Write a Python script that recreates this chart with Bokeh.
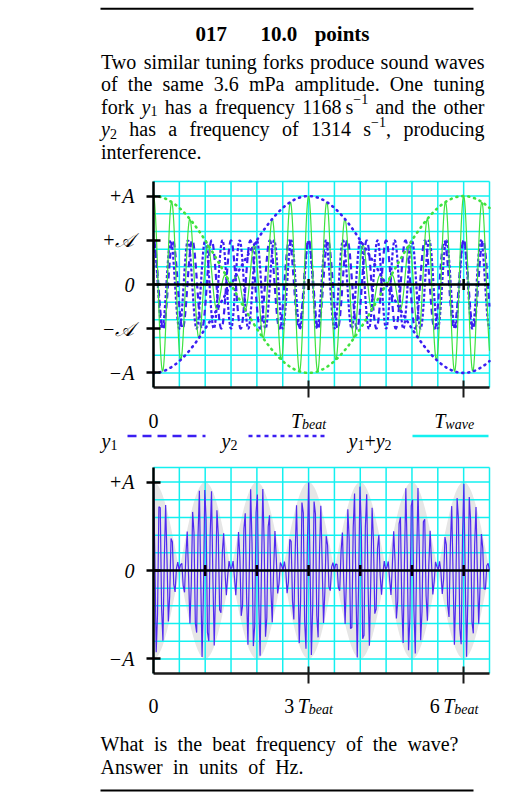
import numpy as np
from bokeh.plotting import figure
from bokeh.layouts import column
from bokeh.models import Range1d, FixedTicker, ColumnDataSource
from bokeh.core.properties import value
from bokeh.embed import file_html
from bokeh.resources import INLINE

# ---------------- data ----------------
question_no = "017"
points_text = "10.0 points"
amplitude_mPa = 3.6
freq_y1 = 1168          # s^-1
freq_y2 = 1314          # s^-1
top_window_beats = 13 / 6     # horizontal extent of upper chart (units of T_beat)
bottom_window_beats = 6.5     # horizontal extent of lower chart (units of T_beat)
top_samples = 800
bottom_samples = 250

top_y_ticks = [1.0, 0.5, 0.0, -0.5, -1.0]
top_y_labels = ["+A", "+\U0001D49C", "0", "\u2212\U0001D49C", "\u2212A"]
top_x_ticks = [0, 1, 2]
top_x_labels = [("0", ""), ("T", "beat"), ("T", "wave")]
top_axis_ticks = [1, 2]
top_zero_ticks = [1, 2]

bottom_y_ticks = [1.0, 0.0, -1.0]
bottom_y_labels = ["+A", "0", "\u2212A"]
bottom_x_ticks = [0, 3, 6]
bottom_x_labels = [("0", ""), ("3 T", "beat"), ("6 T", "beat")]
bottom_axis_ticks = [3, 6]
bottom_zero_ticks = [1, 2, 3, 4, 5, 6]

top_grid_x = [k / 6 for k in range(14)]
bottom_grid_x = [k / 2 for k in range(14)]
grid_y = [round(k * 0.2, 1) for k in range(-5, 6)]

legend_names = [("y", "1"), ("y", "2"), ("y", "1+y2")]

# ---------------- style / page geometry ----------------
SERIF = "Liberation Serif"
BLUE = "#3b1ef2"
VIOLET = "#5028f0"
GREEN = "#3fe23f"
CYAN = "#14f0f0"
GRAY = "#e6e6e6"
Y_LIM = 1.165          # half height of each chart frame, in units of A
A_PX = 103 / Y_LIM     # pixels per A
PAGE_W = 522
FRAME_X0, FRAME_X1 = 153, 489
FS = 20.0
SUB = 14.0

# Times-compatible advance widths (1/1000 em) for laying out text runs
TIMES = {' ': 250, '!': 333, ',': 250, '-': 333, '.': 250, '?': 444, '+': 564, '\u2212': 564,
         '\u2009': 167,
         'A': 722, 'H': 722, 'O': 722, 'P': 556, 'T': 611, 'W': 944,
         'a': 444, 'b': 500, 'c': 444, 'd': 500, 'e': 444, 'f': 333, 'g': 500, 'h': 500,
         'i': 278, 'j': 278, 'k': 500, 'l': 278, 'm': 778, 'n': 500, 'o': 500, 'p': 500,
         'q': 500, 'r': 333, 's': 389, 't': 278, 'u': 500, 'v': 500, 'w': 722, 'x': 500,
         'y': 500, 'z': 444}
for _d in "0123456789":
    TIMES[_d] = 500
TIMES_I = dict(TIMES)
TIMES_I.update({'y': 444, 'T': 556, 'A': 611, 'a': 500, 'w': 667, 'v': 444})
TIMES_B = dict(TIMES)
TIMES_B.update({'p': 556, 'n': 556, 't': 333})


def seg_w(text, style, px):
    tab = TIMES_I if style == "italic" else (TIMES_B if style == "bold" else TIMES)
    return sum(tab.get(c, 500) for c in text) * px / 1000.0


def run_width(segs):
    return sum(seg_w(t, s, z) for t, s, z, _ in segs)


def layout_run(segs, x0, base):
    out = []
    x = x0
    for text, style, size, dy in segs:
        out.append((x, base + dy, text, style, size))
        x += seg_w(text, style, size)
    return out


def justify(tokens, x0, x1, base):
    widths = [run_width(t) for t in tokens]
    gap = (x1 - x0 - sum(widths)) / (len(tokens) - 1)
    out = []
    x = x0
    for tok, w in zip(tokens, widths):
        out += layout_run(tok, x, base)
        x += w + gap
    return out


def text_fig(h):
    p = figure(width=PAGE_W, height=h, x_range=Range1d(0, PAGE_W), y_range=Range1d(h, 0),
               output_backend="svg", toolbar_location=None, min_border=0,
               min_border_left=0, min_border_right=0, min_border_top=0, min_border_bottom=0,
               x_axis_location=None, y_axis_location=None)
    p.xgrid.visible = False
    p.ygrid.visible = False
    p.outline_line_color = None
    return p


def draw_runs(p, items, fx=lambda v: v, fy=lambda v: v):
    src = ColumnDataSource(dict(
        x=[fx(i[0]) for i in items], y=[fy(i[1]) for i in items], text=[i[2] for i in items],
        style=[i[3] for i in items], size=["%.1fpx" % i[4] for i in items]))
    p.text(x="x", y="y", text="text", source=src, text_font=value(SERIF),
           text_font_style="style", text_font_size="size", text_baseline="alphabetic",
           text_align="left", text_color="black")


def W(word, style="normal", size=FS):
    return [(word, style, size, 0)]


# ---------------- header (page y 0..175) ----------------
hdr = text_fig(175)
hdr.segment(x0=[100], y0=[8.3], x1=[473], y1=[8.3], line_color="black", line_width=2)
items = layout_run(W(question_no, "bold", 21), 195, 33.3)
items += justify([W(w, "bold", 21) for w in points_text.split()], 260, 369, 33.3)
line1 = [W(w) for w in "Two similar tuning forks produce sound waves".split()]
line2 = [W(w) for w in ("of the same %s mPa amplitude. One tuning" % amplitude_mPa).split()]
Y1 = [("y", "italic", FS, 0), ("1", "normal", SUB, 4.5)]
Y2 = [("y", "italic", FS, 0), ("2", "normal", SUB, 4.5)]
line3 = [W("fork"), Y1, W("has"), W("a"), W("frequency"),
         [(str(freq_y1), "normal", FS, 0), ("\u2009", "normal", FS, 0), ("s", "normal", FS, 0),
          ("\u22121", "normal", SUB, -7.5)],
         W("and"), W("the"), W("other")]
line4 = [Y2, W("has"), W("a"), W("frequency"), W("of"), W(str(freq_y2)),
         [("s", "normal", FS, 0), ("\u22121", "normal", SUB, -7.5), (",", "normal", FS, 0)],
         W("producing")]
XL, XR = 100.5, 484
items += justify(line1, XL, XR, 61)
items += justify(line2, XL, XR, 83.5)
items += justify(line3, XL, XR, 106)
items += justify(line4, XL, XR, 128.5)
items += layout_run(W("interference."), XL, 151)
draw_runs(hdr, items)


# ---------------- charts ----------------
def chart(page_top, page_bottom, zero_abs, x_end, grid_x, y_ticks, y_labels, axis_ticks):
    kx = (FRAME_X1 - FRAME_X0) / x_end
    xr = Range1d(-FRAME_X0 / kx, x_end + (PAGE_W - FRAME_X1) / kx)
    yr = Range1d(-(page_bottom - zero_abs) / A_PX, (zero_abs - page_top) / A_PX)
    p = figure(width=PAGE_W, height=page_bottom - page_top, x_range=xr, y_range=yr,
               output_backend="svg", toolbar_location=None, min_border=0,
               min_border_left=0, min_border_right=0, min_border_top=0, min_border_bottom=0)
    p.outline_line_color = None
    p.xgrid.visible = False
    p.ygrid.visible = False
    # grid (bounded to the chart area) and the cyan frame lines at top / right
    p.segment(x0=grid_x, y0=[-Y_LIM] * len(grid_x), x1=grid_x, y1=[Y_LIM] * len(grid_x),
              line_color=CYAN, line_width=1.5, level="underlay")
    hy = grid_y + [Y_LIM]
    p.segment(x0=[0] * len(hy), y0=hy, x1=[x_end] * len(hy), y1=hy,
              line_color=CYAN, line_width=1.5, level="underlay")
    ya = p.yaxis[0]
    ya.fixed_location = 0
    ya.bounds = (-Y_LIM, Y_LIM)
    ya.ticker = FixedTicker(ticks=y_ticks)
    ya.major_label_overrides = {k: v for k, v in zip(y_ticks, y_labels)}
    ya.major_label_text_font = SERIF
    ya.major_label_text_font_style = "italic"
    ya.major_label_text_font_size = "20px"
    ya.major_label_text_color = "black"
    ya.major_label_standoff = 12
    ya.major_tick_in = 7
    ya.major_tick_out = 7
    ya.major_tick_line_width = 2.5
    ya.axis_line_width = 2.5
    ya.axis_line_color = "black"
    ya.minor_tick_line_color = None
    xa = p.xaxis[0]
    xa.fixed_location = -Y_LIM
    xa.bounds = (0, x_end)
    xa.ticker = FixedTicker(ticks=axis_ticks)
    xa.major_label_overrides = {k: "" for k in axis_ticks}
    xa.major_label_text_alpha = 0
    xa.major_tick_in = 7
    xa.major_tick_out = 10
    xa.major_tick_line_width = 2
    xa.major_tick_line_color = "#1a1a1a"
    xa.axis_line_width = 2.5
    xa.axis_line_color = "#1a1a1a"
    xa.minor_tick_line_color = None
    fx = lambda px: (px - FRAME_X0) / kx
    fy = lambda py: (zero_abs - py) / A_PX
    return p, fx, fy


def zero_line(p, x_end, ticks):
    p.segment(x0=[0], y0=[0], x1=[x_end], y1=[0], line_color="black", line_width=2.5)
    p.scatter(ticks, [0] * len(ticks), marker="dash", angle=np.pi / 2,
              size=11, line_color="black", line_width=2.5)


def tick_labels(p, ticks, labels, base_abs, fy, shifts):
    xs, ys, offs, texts, styles, sizes = [], [], [], [], [], []
    for xt, (main, sub), sh in zip(ticks, labels, shifts):
        parts = main.split(" ")
        if len(parts) == 2:
            segs = [(parts[0], "normal", FS, 0), ("\u2009", "normal", FS, 0),
                    (parts[1], "italic", FS, 0)]
        elif main == "0":
            segs = [(main, "normal", FS, 0)]
        else:
            segs = [(main, "italic", FS, 0)]
        if sub:
            segs += [(sub, "italic", SUB, 3.5)]
        x = -run_width(segs) / 2 + sh
        for text, style, size, dy in segs:
            xs.append(xt)
            ys.append(fy(base_abs + dy))
            offs.append(x)
            texts.append(text)
            styles.append(style)
            sizes.append("%.1fpx" % size)
            x += seg_w(text, style, size)
    src = ColumnDataSource(dict(x=xs, y=ys, off=offs, text=texts, style=styles, size=sizes))
    p.text(x="x", y="y", x_offset="off", text="text", source=src, text_font=value(SERIF),
           text_font_style="style", text_font_size="size", text_baseline="alphabetic",
           text_align="left", text_color="black")


ratio1 = freq_y1 / (freq_y2 - freq_y1)
ratio2 = freq_y2 / (freq_y2 - freq_y1)

# upper chart (page y 175..455, legend included): y1, y2, their sum and the beat envelope
TOP_PAGE = (175, 455)
TOP_ZERO = 181 + 103
top, tfx, tfy = chart(TOP_PAGE[0], TOP_PAGE[1], TOP_ZERO, top_window_beats, top_grid_x,
                      top_y_ticks, top_y_labels, top_axis_ticks)
t = np.linspace(0, top_window_beats, top_samples)
y1 = 0.5 * np.cos(2 * np.pi * ratio1 * t)
y2 = 0.5 * np.cos(2 * np.pi * ratio2 * t)
env = np.cos(np.pi * t)
top.line(t, y1, line_color=BLUE, line_width=2.2, line_dash="6 4")
top.line(t, y2, line_color=BLUE, line_width=2.2, line_dash="3 2")
top.line(t, y1 + y2, line_color=GREEN, line_width=1.2)
top.line(t, env, line_color=GREEN, line_width=2.6, line_dash="1 5", line_cap="round")
top.line(t, -env, line_color=BLUE, line_width=2.6, line_dash="1 5", line_cap="round")
zero_line(top, top_window_beats, top_zero_ticks)
tick_labels(top, top_x_ticks, top_x_labels, 420, tfy, [0, 0, -9.5])

# legend row under the upper chart: label on the left, sample line on the right
LEG_BASE, LEG_LINE = 440, 435.5
leg_items = []
leg_starts = [101, 221, 348]
for (v, s), x0 in zip(legend_names, leg_starts):
    segs = [(v, "italic", FS, 0)]
    if "+" in s:
        a, b = s.split("+y")
        segs += [(a, "normal", SUB, 4.5), ("+", "normal", FS, 0), ("y", "italic", FS, 0),
                 (b, "normal", SUB, 4.5)]
    else:
        segs += [(s, "normal", SUB, 4.5)]
    leg_items += layout_run(segs, x0, LEG_BASE)
draw_runs(top, leg_items, tfx, tfy)
leg_samples = [((127, 205), BLUE, "9 6"), ((248, 327), BLUE, "4 4"), ((412, 488), CYAN, "solid")]
for (xa_, xb_), col, dash in leg_samples:
    top.line([tfx(xa_), tfx(xb_)], [tfy(LEG_LINE)] * 2, line_color=col, line_width=2.5,
             line_dash=dash)

# lower chart (page y 455..725): the summed wave over several beats, envelope shaded
BOT_PAGE = (455, 725)
BOT_ZERO = 467 + 103
bot, bfx, bfy = chart(BOT_PAGE[0], BOT_PAGE[1], BOT_ZERO, bottom_window_beats,
                      bottom_grid_x, bottom_y_ticks, bottom_y_labels, bottom_axis_ticks)
te = np.linspace(0, bottom_window_beats, 700)
envb = np.abs(np.cos(np.pi * te))
bot.varea(x=te, y1=-envb, y2=envb, fill_color=GRAY, level="image")
tb = np.linspace(0, bottom_window_beats, bottom_samples)
sb = 0.5 * np.cos(2 * np.pi * ratio1 * tb) + 0.5 * np.cos(2 * np.pi * ratio2 * tb)
bot.line(tb, sb, line_color=VIOLET, line_width=1.2)
zero_line(bot, bottom_window_beats, bottom_zero_ticks)
tick_labels(bot, bottom_x_ticks, bottom_x_labels, 705, bfy, [0, 0, -9.5])

# ---------------- footer (page y 725..795) ----------------
ftr = text_fig(70)
fi = justify([W(w) for w in "What is the beat frequency of the wave?".split()], 100, 458, 18.3)
fi += justify([W(w) for w in "Answer in units of Hz.".split()], 100, 303, 41)
draw_runs(ftr, fi)
ftr.segment(x0=[100], y0=[65], x1=[473], y1=[65], line_color="black", line_width=2)

page = column(hdr, top, bot, ftr, spacing=0)
open("out.html", "w").write(file_html(page, INLINE, title="beats"))
